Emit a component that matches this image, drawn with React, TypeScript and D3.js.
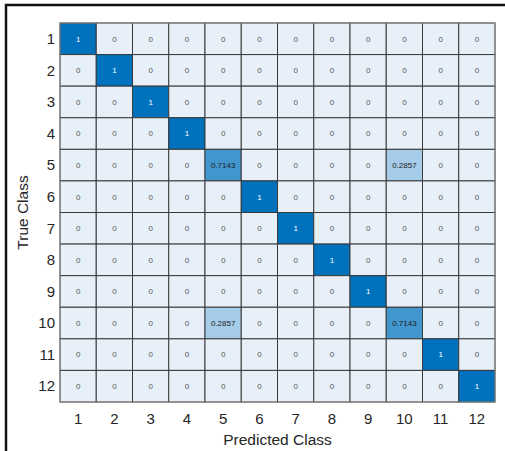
import React from "react";
import * as d3 from "d3";

const classes = ["1", "2", "3", "4", "5", "6", "7", "8", "9", "10", "11", "12"];
// rows = true class, columns = predicted class
const matrix: number[][] = [
  [1, 0, 0, 0, 0, 0, 0, 0, 0, 0, 0, 0],
  [0, 1, 0, 0, 0, 0, 0, 0, 0, 0, 0, 0],
  [0, 0, 1, 0, 0, 0, 0, 0, 0, 0, 0, 0],
  [0, 0, 0, 1, 0, 0, 0, 0, 0, 0, 0, 0],
  [0, 0, 0, 0, 0.7143, 0, 0, 0, 0, 0.2857, 0, 0],
  [0, 0, 0, 0, 0, 1, 0, 0, 0, 0, 0, 0],
  [0, 0, 0, 0, 0, 0, 1, 0, 0, 0, 0, 0],
  [0, 0, 0, 0, 0, 0, 0, 1, 0, 0, 0, 0],
  [0, 0, 0, 0, 0, 0, 0, 0, 1, 0, 0, 0],
  [0, 0, 0, 0, 0.2857, 0, 0, 0, 0, 0.7143, 0, 0],
  [0, 0, 0, 0, 0, 0, 0, 0, 0, 0, 1, 0],
  [0, 0, 0, 0, 0, 0, 0, 0, 0, 0, 0, 1],
];
const xLabel = "Predicted Class";
const yLabel = "True Class";

const W = 505;
const H = 451;
const left = 60;
const right = 495;
const top = 23;
const bottom = 402;

const font = "'Liberation Sans', Arial, Helvetica, sans-serif";

export default function App() {
  const x = d3.scaleBand<string>().domain(classes).range([left, right]);
  const y = d3.scaleBand<string>().domain(classes).range([top, bottom]);
  const color = d3
    .scaleLinear<string>()
    .domain([0, 1])
    .range(["rgb(231,240,249)", "rgb(0,114,189)"])
    .interpolate(d3.interpolateRgb);

  const fmt = (v: number) => (v === 0 || v === 1 ? String(v) : v.toFixed(4));

  return (
    <svg
      width={W}
      height={H}
      style={{ position: "absolute", left: 0, top: 0, background: "#fff" }}
      fontFamily={font}
    >
      <rect x={0} y={0} width={W} height={H} fill="#fff" />
      <path d={`M6,${H} L6,5 L${W},5`} fill="none" stroke="#111" strokeWidth={2.5} />
      {matrix.map((row, i) =>
        row.map((v, j) => {
          const cx = x(classes[j])!;
          const cy = y(classes[i])!;
          return (
            <g key={`${i}-${j}`}>
              <rect
                x={cx}
                y={cy}
                width={x.bandwidth()}
                height={y.bandwidth()}
                fill={color(v)}
                stroke="#3a3a3a"
                strokeWidth={1}
              />
              <text
                x={cx + x.bandwidth() / 2}
                y={cy + y.bandwidth() / 2}
                dy="0.35em"
                textAnchor="middle"
                fontSize={8}
                fill={v === 1 ? "#ffffff" : v === 0 ? "#555" : "#222"}
              >
                {fmt(v)}
              </text>
            </g>
          );
        })
      )}
      <rect
        x={left}
        y={top}
        width={right - left}
        height={bottom - top}
        fill="none"
        stroke="#8a8a8a"
        strokeWidth={1}
      />
      {classes.map((c) => (
        <text
          key={"y" + c}
          x={55}
          y={y(c)! + y.bandwidth() / 2}
          dy="0.35em"
          textAnchor="end"
          fontSize={15}
          fill="#262626"
        >
          {c}
        </text>
      ))}
      {classes.map((c) => (
        <text
          key={"x" + c}
          x={x(c)! + x.bandwidth() / 2}
          y={424}
          textAnchor="middle"
          fontSize={15}
          fill="#262626"
        >
          {c}
        </text>
      ))}
      <text x={(left + right) / 2} y={445} textAnchor="middle" fontSize={15.5} fill="#262626">
        {xLabel}
      </text>
      <text
        transform={`translate(28,${(top + bottom) / 2}) rotate(-90)`}
        textAnchor="middle"
        fontSize={15.5}
        fill="#262626"
      >
        {yLabel}
      </text>
    </svg>
  );
}
